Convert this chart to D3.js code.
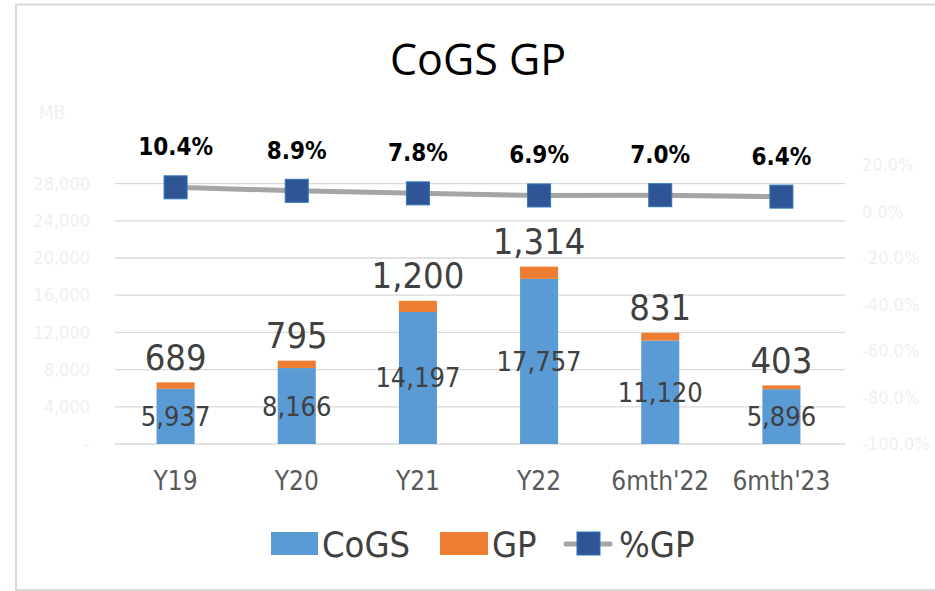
<!DOCTYPE html>
<html>
<head>
<meta charset="utf-8">
<script src="https://cdn.jsdelivr.net/npm/d3@7"></script>
<style>
  body { margin: 0; background: #fff; }
  svg { display: block; }
</style>
</head>
<body>
<svg id="chart" width="935" height="591"></svg>
<script>
// data
var categories = ["Y19", "Y20", "Y21", "Y22", "6mth'22", "6mth'23"]
var cogs = [5937, 8166, 14197, 17757, 11120, 5896]
var gp = [689, 795, 1200, 1314, 831, 403]
var pctGP = [10.4, 8.9, 7.8, 6.9, 7.0, 6.4]
var leftTicks = [0, 4000, 8000, 12000, 16000, 20000, 24000, 28000]
var rightTicks = [-100, -80, -60, -40, -20, 0, 20]

var svg = d3.select("#chart")
var font = "'Liberation Sans Narrow', 'DejaVu Sans Condensed', sans-serif"

// chart frame
svg.append("rect").attr("x", 16).attr("y", 4.5).attr("width", 940).attr("height", 585.5)
  .attr("fill", "#fff").attr("stroke", "#d9d9d9").attr("stroke-width", 2)

var plotTop = 165, plotBottom = 444, plotLeft = 115, plotRight = 842

var x = d3.scaleBand().domain(categories).range([plotLeft, plotRight]).paddingInner(0.686).paddingOuter(0.343)
var y = d3.scaleLinear().domain([0, 30000]).range([plotBottom, plotTop])
var y2 = d3.scaleLinear().domain([-100, 20]).range([plotBottom, plotTop])

// gridlines
svg.append("g").selectAll("line").data(leftTicks).enter().append("line")
  .attr("x1", plotLeft).attr("x2", plotRight + 3)
  .attr("y1", function(d){ return y(d) }).attr("y2", function(d){ return y(d) })
  .attr("stroke", "#d9d9d9").attr("stroke-width", 1.3)

// left axis (very faint labels)
var fmt = d3.format(",")
var leftAxis = svg.append("g").attr("transform", "translate(" + plotLeft + ",0)")
  .call(d3.axisLeft(y).tickValues(leftTicks).tickSize(0).tickPadding(25)
    .tickFormat(function(d){ return d === 0 ? "-" : fmt(d) }))
leftAxis.select(".domain").remove()
leftAxis.selectAll("text").attr("fill", "#f0f0f0").attr("font-size", 18).attr("font-family", font)
svg.append("text").text("MB").attr("x", 52).attr("y", 113).attr("text-anchor", "middle")
  .attr("dominant-baseline", "middle").attr("fill", "#f0f0f0").attr("font-size", 19).attr("font-family", font)

// right axis
var rightAxis = svg.append("g").attr("transform", "translate(" + plotRight + ",0)")
  .call(d3.axisRight(y2).tickValues(rightTicks).tickSize(0).tickPadding(20)
    .tickFormat(function(d){ return d.toFixed(1) + "%" }))
rightAxis.select(".domain").remove()
rightAxis.selectAll("text").attr("fill", "#f0f0f0").attr("font-size", 18).attr("font-family", font)

// category axis
var xAxis = svg.append("g").attr("transform", "translate(0," + plotBottom + ")")
  .call(d3.axisBottom(x).tickSize(0).tickPadding(28))
xAxis.select(".domain").remove()
xAxis.selectAll("text").attr("fill", "#595959").attr("font-size", 26).attr("font-family", font)

// stacked bars
var bars = svg.append("g")
bars.selectAll("rect.cogs").data(cogs).enter().append("rect").attr("class", "cogs")
  .attr("x", function(d,i){ return x(categories[i]) }).attr("width", x.bandwidth())
  .attr("y", function(d){ return y(d) }).attr("height", function(d){ return y(0) - y(d) })
  .attr("fill", "#5b9bd5")
bars.selectAll("rect.gp").data(gp).enter().append("rect").attr("class", "gp")
  .attr("x", function(d,i){ return x(categories[i]) }).attr("width", x.bandwidth())
  .attr("y", function(d,i){ return y(cogs[i] + d) }).attr("height", function(d,i){ return y(cogs[i]) - y(cogs[i] + d) })
  .attr("fill", "#ed7d31")

// labels for bars
bars.selectAll("text.cogsLbl").data(cogs).enter().append("text").attr("class", "cogsLbl")
  .attr("x", function(d,i){ return x(categories[i]) + x.bandwidth()/2 })
  .attr("y", function(d){ return (y(0) + y(d))/2 })
  .attr("text-anchor", "middle").attr("dominant-baseline", "central")
  .attr("fill", "#404040").attr("font-size", 27).attr("font-family", font)
  .text(function(d){ return fmt(d) })
bars.selectAll("text.gpLbl").data(gp).enter().append("text").attr("class", "gpLbl")
  .attr("x", function(d,i){ return x(categories[i]) + x.bandwidth()/2 })
  .attr("y", function(d,i){ return y(cogs[i] + d) - 25 })
  .attr("text-anchor", "middle").attr("dominant-baseline", "central")
  .attr("fill", "#404040").attr("font-size", 36).attr("font-family", font)
  .text(function(d){ return fmt(d) })

// %GP line
var line = d3.line().x(function(d,i){ return x(categories[i]) + x.bandwidth()/2 }).y(function(d){ return y2(d) })
svg.append("path").datum(pctGP).attr("d", line).attr("fill", "none")
  .attr("stroke", "#a5a5a5").attr("stroke-width", 5).attr("stroke-linecap", "round")
var ms = 23
svg.append("g").selectAll("rect").data(pctGP).enter().append("rect")
  .attr("x", function(d,i){ return x(categories[i]) + x.bandwidth()/2 - ms/2 })
  .attr("y", function(d){ return y2(d) - ms/2 })
  .attr("width", ms).attr("height", ms)
  .attr("fill", "#2f5597").attr("stroke", "#2e75b6").attr("stroke-width", 1)
svg.append("g").selectAll("text").data(pctGP).enter().append("text")
  .attr("x", function(d,i){ return x(categories[i]) + x.bandwidth()/2 })
  .attr("y", function(d){ return y2(d) - 40 })
  .attr("text-anchor", "middle").attr("dominant-baseline", "central")
  .attr("fill", "#000").attr("font-size", 24).attr("font-weight", "bold").attr("font-family", font)
  .text(function(d){ return d.toFixed(1) + "%" })

// title
svg.append("text").text("CoGS GP").attr("x", 478).attr("y", 58)
  .attr("text-anchor", "middle").attr("dominant-baseline", "central")
  .attr("fill", "#000").attr("font-size", 43).attr("font-family", "'Open Sans', sans-serif")

// legend
var lg = svg.append("g").attr("font-family", font).attr("font-size", 36).attr("fill", "#404040")
lg.append("rect").attr("x", 271).attr("y", 532).attr("width", 47).attr("height", 23).attr("fill", "#5b9bd5")
lg.append("text").text("CoGS").attr("x", 322).attr("y", 544).attr("dominant-baseline", "central")
lg.append("rect").attr("x", 440).attr("y", 532).attr("width", 48).attr("height", 23).attr("fill", "#ed7d31")
lg.append("text").text("GP").attr("x", 492).attr("y", 544).attr("dominant-baseline", "central")
lg.append("line").attr("x1", 566).attr("x2", 610).attr("y1", 544).attr("y2", 544)
  .attr("stroke", "#a5a5a5").attr("stroke-width", 5).attr("stroke-linecap", "round")
lg.append("rect").attr("x", 577).attr("y", 532).attr("width", 23).attr("height", 23)
  .attr("fill", "#2f5597").attr("stroke", "#2e75b6")
lg.append("text").text("%GP").attr("x", 619).attr("y", 544).attr("dominant-baseline", "central")
</script>
</body>
</html>
